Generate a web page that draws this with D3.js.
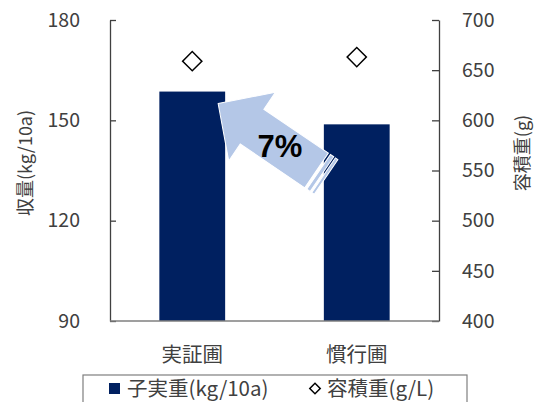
<!DOCTYPE html>
<html>
<head>
<meta charset="utf-8">
<script src="https://cdn.jsdelivr.net/npm/d3@7"></script>
<style>
  body { margin: 0; background: #fff; }
  text { font-family: "Noto Sans CJK JP", "Noto Sans", sans-serif; }
</style>
</head>
<body>
<div id="chart"></div>
<script>
// data
const categories = ['実証圃', '慣行圃'];
const yieldValues = [158.6, 148.8];      // 子実重 (kg/10a), left axis
const densityValues = [659, 663];       // 容積重 (g/L), right axis
const leftTicks = [90, 120, 150, 180];
const rightTicks = [400, 450, 500, 550, 600, 650, 700];
const increaseLabel = '7%';
const legendLabels = ['子実重(kg/10a)', '容積重(g/L)'];

const width = 546;
const height = 402;
const plot = { left: 110, right: 439, top: 20, bottom: 321 };

const barColor = '#002060';
const arrowColor = '#B4C7E7';
const axisColor = '#404040';
const textColor = '#404040';

const svg = d3.select('#chart').append('svg')
  .attr('width', width)
  .attr('height', height);

const x = d3.scaleBand()
  .domain(categories)
  .range([plot.left, plot.right])
  .paddingInner(0.6)
  .paddingOuter(0.3);

const yLeft = d3.scaleLinear().domain([90, 180]).range([plot.bottom, plot.top]);
const yRight = d3.scaleLinear().domain([400, 700]).range([plot.bottom, plot.top]);

// bars
svg.append('g').selectAll('rect')
  .data(categories)
  .enter().append('rect')
    .attr('x', d => x(d))
    .attr('width', x.bandwidth())
    .attr('y', (d, i) => yLeft(yieldValues[i]))
    .attr('height', (d, i) => plot.bottom - yLeft(yieldValues[i]))
    .attr('fill', barColor);

// diamonds (容積重)
const diamond = d3.symbol().type(d3.symbolSquare).size(185);
svg.append('g').selectAll('path')
  .data(categories)
  .enter().append('path')
    .attr('d', diamond)
    .attr('transform', (d, i) => `translate(${x(d) + x.bandwidth() / 2},${yRight(densityValues[i])}) rotate(45)`)
    .attr('fill', '#fff')
    .attr('stroke', '#000')
    .attr('stroke-width', 1.5);

// axes
const leftAxis = d3.axisLeft(yLeft).tickValues(leftTicks).tickSizeInner(-6).tickSizeOuter(0).tickPadding(30);
const rightAxis = d3.axisRight(yRight).tickValues(rightTicks).tickSizeInner(-7).tickSizeOuter(0).tickPadding(23);

const gl = svg.append('g').attr('transform', `translate(${plot.left},0)`).call(leftAxis);
const gr = svg.append('g').attr('transform', `translate(${plot.right},0)`).call(rightAxis);

[gl, gr].forEach(g => {
  g.select('.domain').attr('stroke', axisColor).attr('stroke-width', 1.3);
  g.selectAll('.tick line').attr('stroke', axisColor).attr('stroke-width', 1.3);
  g.selectAll('.tick text')
    .attr('fill', textColor)
    .style('font-size', '19.5px')
    .style('font-family', '"Noto Sans CJK JP", sans-serif');
});

// bottom line
svg.append('line')
  .attr('x1', plot.left).attr('x2', plot.right)
  .attr('y1', plot.bottom).attr('y2', plot.bottom)
  .attr('stroke', '#7f7f7f')
  .attr('stroke-width', 1.5);

// category labels
svg.append('g').selectAll('text')
  .data(categories)
  .enter().append('text')
    .attr('x', d => x(d) + x.bandwidth() / 2)
    .attr('y', 362)
    .attr('text-anchor', 'middle')
    .attr('fill', textColor)
    .style('font-size', '20.5px')
    .text(d => d);

// axis titles
svg.append('text')
  .attr('transform', 'translate(32,163) rotate(-90)')
  .attr('text-anchor', 'middle')
  .attr('fill', textColor)
  .style('font-size', '18px')
  .text('収量(kg/10a)');

svg.append('text')
  .attr('transform', 'translate(529,153) rotate(-90)')
  .attr('text-anchor', 'middle')
  .attr('fill', textColor)
  .style('font-size', '18px')
  .text('容積重(g)');

// striped block arrow, tip at the top of the 実証圃 bar
const tipX = x(categories[0]) + x.bandwidth() - 7;
const tipY = yLeft(yieldValues[0]) + 12;
const headLen = 41, headHalf = 41.5, shaftHalf = 21, shaftEnd = 119;

const arrow = svg.append('g')
  .attr('transform', `translate(${tipX},${tipY}) rotate(34.2)`);

arrow.append('path')
  .attr('d', `M0,0 L${headLen},${-headHalf} L${headLen},${-shaftHalf} L${shaftEnd},${-shaftHalf} ` +
             `L${shaftEnd},${shaftHalf} L${headLen},${shaftHalf} L${headLen},${headHalf} Z`)
  .attr('fill', arrowColor)
  .attr('stroke', '#fff')
  .attr('stroke-width', 1);

[[121.5, 4], [127.5, 3]].forEach(([sx, sw]) => {
  arrow.append('rect')
    .attr('x', sx).attr('y', -shaftHalf)
    .attr('width', sw).attr('height', shaftHalf * 2)
    .attr('fill', arrowColor)
    .attr('stroke', '#fff')
    .attr('stroke-width', 1);
});

svg.append('text')
  .attr('x', 280)
  .attr('y', 157)
  .attr('text-anchor', 'middle')
  .attr('fill', '#000')
  .style('font-family', '"Liberation Sans", Arial, sans-serif')
  .style('font-weight', 'bold')
  .style('font-size', '31px')
  .text(increaseLabel);

// legend
const legend = svg.append('g');
legend.append('rect')
  .attr('x', 83).attr('y', 375)
  .attr('width', 384).attr('height', 40)
  .attr('fill', '#fff')
  .attr('stroke', '#7f7f7f')
  .attr('stroke-width', 1.2);

legend.append('rect')
  .attr('x', 109).attr('y', 383)
  .attr('width', 11).attr('height', 11)
  .attr('fill', barColor);

legend.append('text')
  .attr('x', 127).attr('y', 396)
  .attr('fill', textColor)
  .style('font-size', '20.5px')
  .text(legendLabels[0]);

legend.append('path')
  .attr('d', d3.symbol().type(d3.symbolSquare).size(55)())
  .attr('transform', 'translate(315,388.5) rotate(45)')
  .attr('fill', '#fff')
  .attr('stroke', '#000')
  .attr('stroke-width', 1.5);

legend.append('text')
  .attr('x', 327).attr('y', 396)
  .attr('fill', textColor)
  .style('font-size', '20.5px')
  .text(legendLabels[1]);
</script>
</body>
</html>
